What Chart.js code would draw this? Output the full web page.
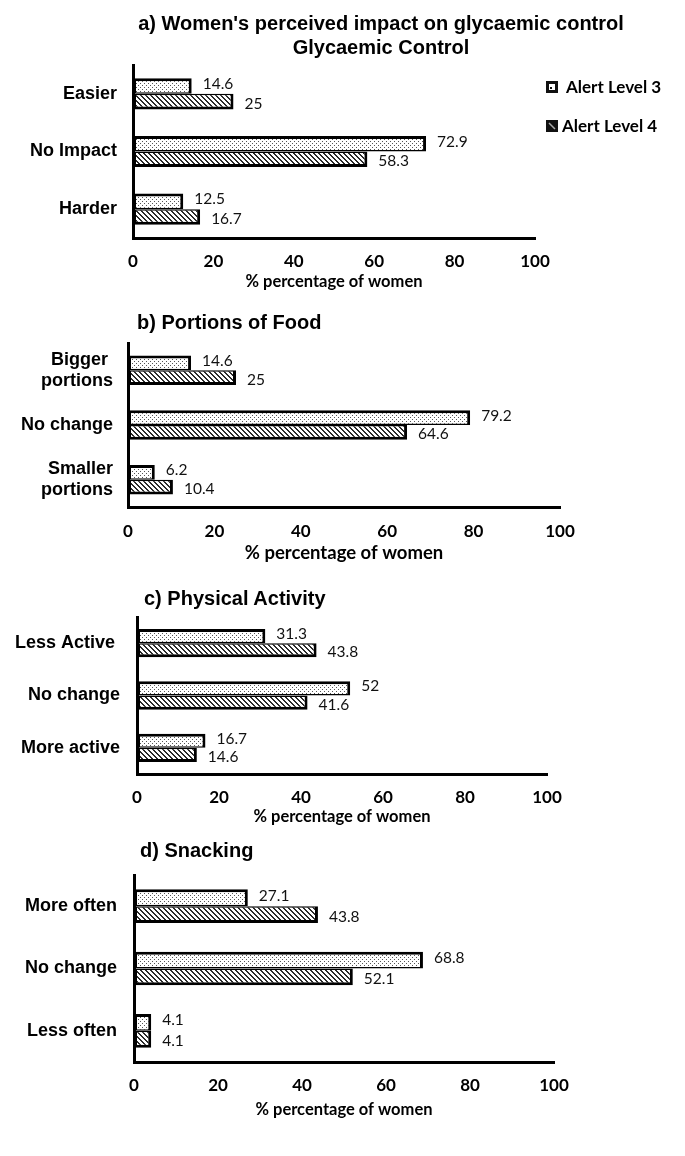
<!DOCTYPE html>
<html>
<head>
<meta charset="utf-8">
<script src="https://cdn.jsdelivr.net/npm/chart.js@4.4.1/dist/chart.umd.min.js"></script>
<style>
  html, body { margin: 0; padding: 0; background: #fff; }
  body { position: relative; width: 685px; height: 1156px; overflow: hidden; font-family: "Liberation Sans", Arial, sans-serif; }
  .panel { position: absolute; left: 0; width: 685px; }
  .title { position: absolute; font-weight: bold; font-size: 20px; line-height: 24px; color: #000; white-space: nowrap; z-index: 2; }
  .legend { position: absolute; left: 546px; top: 0; font-family: Lato, sans-serif; font-weight: bold; font-size: 17px; color: #000; z-index: 2; }
  .legend .item { position: absolute; left: 0; height: 20px; line-height: 20px; white-space: nowrap; }
  .legend canvas { position: absolute; left: 0; top: 4px; }
  .legend span { position: absolute; top: 0; }
</style>
</head>
<body>

<div class="title" style="left:0; width:762px; text-align:center; top:11px">a) Women's perceived impact on glycaemic control<br>Glycaemic Control</div>
<div class="title" style="left:137px; top:310px">b) Portions of Food</div>
<div class="title" style="left:144px; top:586px">c) Physical Activity</div>
<div class="title" style="left:140px; top:838px">d) Snacking</div>

<div class="panel" style="top:35px; height:262px"><canvas id="chartA"></canvas></div>
<div class="panel" style="top:303px; height:263px"><canvas id="chartB"></canvas></div>
<div class="panel" style="top:587px; height:243px"><canvas id="chartC"></canvas></div>
<div class="panel" style="top:845px; height:280px"><canvas id="chartD"></canvas></div>

<div class="legend">
  <div class="item" style="top:77px"><canvas id="keyL3" width="12" height="12"></canvas><span style="left:20px">Alert Level 3</span></div>
  <div class="item" style="top:116px"><canvas id="keyL4" width="12" height="12"></canvas><span style="left:16px">Alert Level 4</span></div>
</div>

<script>
// データ
const seriesNames = ['Alert Level 3', 'Alert Level 4'];
const tickValues = [0, 20, 40, 60, 80, 100];
const axisTitle = '% percentage of women';

const glycaemicLabels = ['Easier', 'No Impact', 'Harder'];
const glycaemicLevel3 = [14.6, 72.9, 12.5];
const glycaemicLevel4 = [25, 58.3, 16.7];

const portionLabels = [['Bigger ', 'portions'], 'No change', ['Smaller', 'portions']];
const portionLevel3 = [14.6, 79.2, 6.2];
const portionLevel4 = [25, 64.6, 10.4];

const activityLabels = ['Less Active ', 'No change', 'More active'];
const activityLevel3 = [31.3, 52, 16.7];
const activityLevel4 = [43.8, 41.6, 14.6];

const snackLabels = ['More often', 'No change', 'Less often'];
const snackLevel3 = [27.1, 68.8, 4.1];
const snackLevel4 = [43.8, 52.1, 4.1];

const FONT = '"Liberation Sans", Arial, sans-serif';
const FONT2 = 'Lato, "Open Sans", sans-serif';

// 点模様（Alert Level 3）
function dotPattern(ctx) {
  const tile = document.createElement('canvas');
  tile.width = 4; tile.height = 4;
  const g = tile.getContext('2d');
  g.fillStyle = '#fff'; g.fillRect(0, 0, 4, 4);
  g.fillStyle = '#555';
  g.fillRect(0, 0, 1, 1);
  g.fillRect(2, 2, 1, 1);
  return ctx.createPattern(tile, 'repeat');
}

// 斜線模様（Alert Level 4）
function hatchPattern(ctx) {
  const n = 5;
  const tile = document.createElement('canvas');
  tile.width = n; tile.height = n;
  const g = tile.getContext('2d');
  g.fillStyle = '#fff'; g.fillRect(0, 0, n, n);
  g.fillStyle = '#2b2b2b';
  for (let y = 0; y < n; y++) {
    g.fillRect(y % n, y, 1, 1);
    g.fillRect((y + 1) % n, y, 1, 1);
  }
  return ctx.createPattern(tile, 'repeat');
}

// 値ラベル
const valueLabels = {
  id: 'valueLabels',
  afterDatasetsDraw(chart) {
    const ctx = chart.ctx;
    ctx.save();
    ctx.font = '15.5px ' + FONT2;
    ctx.fillStyle = '#111';
    ctx.textAlign = 'left';
    ctx.textBaseline = 'middle';
    chart.data.datasets.forEach((ds, i) => {
      chart.getDatasetMeta(i).data.forEach((bar, j) => {
        ctx.fillText(String(ds.data[j]), bar.x + 11, bar.y + (i === 0 ? -2 : 2));
      });
    });
    ctx.restore();
  }
};

function renderPanel(canvasId, labels, level3, level4, box) {
  const canvas = document.getElementById(canvasId);
  const ctx = canvas.getContext('2d');
  const holder = canvas.parentElement;
  const cTop = parseFloat(holder.style.top);
  const cH = parseFloat(holder.style.height);
  const titleLH = box.titleSize * 1.2;
  const tickLH = 17 * 1.2;
  const xAxisH = box.titleY + titleLH / 2 - box.bottom;

  return new Chart(canvas, {
    type: 'bar',
    data: {
      labels: labels,
      datasets: [{
        label: seriesNames[0],
        data: level3,
        backgroundColor: dotPattern(ctx),
        borderColor: '#000',
        borderWidth: { top: 3, right: 3, bottom: 1.5, left: 3 },
        borderSkipped: false,
        categoryPercentage: 0.54,
        barPercentage: 1
      }, {
        label: seriesNames[1],
        data: level4,
        backgroundColor: hatchPattern(ctx),
        borderColor: '#000',
        borderWidth: { top: 1.5, right: 3, bottom: 3, left: 3 },
        borderSkipped: false,
        categoryPercentage: 0.54,
        barPercentage: 1
      }]
    },
    options: {
      indexAxis: 'y',
      responsive: true,
      maintainAspectRatio: false,
      animation: false,
      layout: {
        padding: {
          top: box.top - cTop,
          left: 0,
          right: 685 - box.right,
          bottom: cTop + cH - (box.titleY + titleLH / 2)
        }
      },
      plugins: {
        legend: { display: false },
        tooltip: { enabled: false }
      },
      scales: {
        x: {
          min: tickValues[0],
          max: tickValues[tickValues.length - 1],
          afterBuildTicks: (scale) => { scale.ticks = tickValues.map(v => ({ value: v })); },
          ticks: {
            color: '#000',
            padding: box.tickY - box.bottom - tickLH / 2,
            font: { family: FONT2, size: 17, weight: 'bold' }
          },
          grid: { display: false, drawTicks: false },
          border: { display: true, color: '#000', width: 3 },
          title: {
            display: true,
            text: axisTitle,
            color: '#000',
            padding: { top: 0, bottom: 0 },
            font: { family: FONT2, size: box.titleSize, weight: 'bold' }
          },
          afterFit: (scale) => { scale.height = xAxisH; }
        },
        y: {
          ticks: {
            color: '#000',
            padding: box.gap,
            font: { family: FONT, size: 18, weight: 'bold', lineHeight: 1.17 }
          },
          grid: { display: false, drawTicks: false },
          border: { display: true, color: '#000', width: 3 },
          afterFit: (scale) => { scale.width = box.left; }
        }
      }
    },
    plugins: [valueLabels]
  });
}

// 凡例アイコン
function drawKeys() {
  const a = document.getElementById('keyL3').getContext('2d');
  a.fillStyle = '#111'; a.fillRect(0, 0, 12, 12);
  a.fillStyle = '#fff'; a.fillRect(3, 3, 6, 6);
  a.fillStyle = '#111'; a.fillRect(4, 6, 2, 2);
  const b = document.getElementById('keyL4').getContext('2d');
  b.fillStyle = '#111'; b.fillRect(0, 0, 12, 12);
  b.strokeStyle = '#aaa'; b.lineWidth = 1.5;
  b.beginPath(); b.moveTo(3, 3); b.lineTo(9, 9); b.stroke();
}

drawKeys();
renderPanel('chartA', glycaemicLabels, glycaemicLevel3, glycaemicLevel4,
  { left: 133, right: 535, top: 65, bottom: 238, tickY: 262, titleY: 282, titleSize: 16.5, gap: 16 });
renderPanel('chartB', portionLabels, portionLevel3, portionLevel4,
  { left: 128, right: 560, top: 343, bottom: 507, tickY: 532, titleY: 553, titleSize: 18.5, gap: 15 });
renderPanel('chartC', activityLabels, activityLevel3, activityLevel4,
  { left: 137, right: 547, top: 617, bottom: 774, tickY: 798, titleY: 817, titleSize: 16.5, gap: 17 });
renderPanel('chartD', snackLabels, snackLevel3, snackLevel4,
  { left: 134, right: 554, top: 875, bottom: 1062, tickY: 1086, titleY: 1110, titleSize: 16.5, gap: 17 });
</script>
</body>
</html>
